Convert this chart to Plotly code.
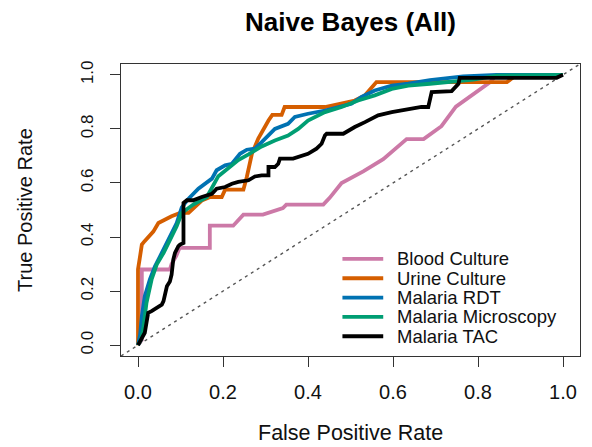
import plotly.graph_objects as go

# ROC curves for the Naive Bayes classifier, one per diagnostic target
blood_fpr = [0, .009, .009, .075, .079, .09, .098, .169, .169, .224, .248, .294, .341, .349,
             .436, .451, .479, .53, .577, .632, .672, .714, .748, .785, .828, .844, 1.0]
blood_tpr = [0, .02, .28, .28, .30, .33, .36, .36, .442, .442, .483, .483, .507, .52,
             .52, .545, .60, .643, .688, .762, .762, .81, .882, .922, .972, 1.0, 1.0]

urine_fpr = [0, 0, .004, .009, .015, .036, .048, .079, .099, .119, .15, .17, .197, .205, .248,
             .256, .268, .283, .307, .316, .338, .345, .44, .51, .534, .561, .868, .891, 1.0]
urine_tpr = [0, .28, .32, .372, .384, .42, .452, .477, .489, .489, .535, .548, .548, .575, .575,
             .622, .708, .764, .831, .852, .852, .881, .881, .905, .924, .973, .973, 1.0, 1.0]

rdt_fpr = [0, .005, .009, .016, .028, .04, .056, .068, .079, .091, .103, .119, .142, .158, .174,
           .185, .205, .221, .24, .256, .275, .291, .307, .322, .353, .369, .40, .44, .502, .526,
           .557, .597, .636, .687, .765, .844, 1.0]
rdt_tpr = [0, .04, .107, .181, .243, .292, .341, .378, .415, .452, .51, .542, .579, .597, .616,
           .647, .665, .671, .708, .723, .727, .751, .776, .80, .819, .844, .856, .868, .893, .918,
           .942, .96, .967, .98, .994, 1.0, 1.0]

micro_fpr = [0, .007, .013, .02, .032, .044, .06, .075, .091, .103, .13, .162, .174, .189, .213,
             .236, .26, .291, .322, .353, .377, .40, .44, .479, .518, .557, .597, .636, .687,
             .789, .844, 1.0]
micro_tpr = [0, .02, .07, .157, .243, .298, .341, .39, .44, .489, .52, .548, .585, .625, .655,
             .685, .706, .735, .757, .775, .80, .831, .862, .881, .905, .924, .948, .96, .967,
             .982, .997, 1.0]

tac_fpr = [0, .008, .016, .02, .024, .032, .056, .06, .064, .068, .075, .079, .083, .087, .095,
           .099, .107, .107, .115, .13, .15, .174, .185, .205, .221, .236, .26, .275, .291, .307,
           .307, .322, .33, .334, .365, .40, .42, .432, .44, .444, .483, .51, .534, .565, .597,
           .62, .667, .683, .691, .738, .754, .757, .985, 1.0]
tac_tpr = [0, .02, .046, .083, .12, .126, .15, .163, .187, .218, .236, .261, .317, .341, .366,
           .372, .378, .526, .536, .536, .548, .56, .579, .585, .597, .604, .61, .624, .628, .628,
           .659, .659, .671, .69, .69, .708, .727, .745, .776, .782, .782, .807, .825, .85, .862,
           .868, .881, .881, .936, .94, .967, .989, .989, 1.0]

series_names = ["Blood Culture", "Urine Culture", "Malaria RDT", "Malaria Microscopy", "Malaria TAC"]
series_colors = ["#CC79A7", "#D55E00", "#0072B2", "#009E73", "#000000"]
series_x = [blood_fpr, urine_fpr, rdt_fpr, micro_fpr, tac_fpr]
series_y = [blood_tpr, urine_tpr, rdt_tpr, micro_tpr, tac_tpr]

tick_vals = [0, 0.2, 0.4, 0.6, 0.8, 1.0]
tick_text = ["0.0", "0.2", "0.4", "0.6", "0.8", "1.0"]

FONT = "Liberation Sans, Arial, sans-serif"
LO, HI = -0.04, 1.04          # R-style 4% padding around [0, 1]
LW = 3.8

fig = go.Figure()
for xs, ys, name, col in zip(series_x, series_y, series_names, series_colors):
    fig.add_trace(go.Scatter(x=xs, y=ys, mode="lines", name=name,
                             line=dict(color=col, width=LW), showlegend=False))

# chance diagonal across the whole plotting region
fig.add_shape(type="line", xref="x", yref="y", x0=LO, y0=LO, x1=HI, y1=HI,
              line=dict(color="#555555", width=1.4, dash="3px,4px"), layer="below")

# legend without a box (bottom right)
leg_x0, leg_x1, leg_tx = 0.481, 0.577, 0.606
leg_top, leg_step = 0.319, 0.0715
for i, (name, col) in enumerate(zip(series_names, series_colors)):
    yy = leg_top - i * leg_step
    fig.add_shape(type="line", xref="x", yref="y", x0=leg_x0, x1=leg_x1, y0=yy, y1=yy,
                  line=dict(color=col, width=LW))
    fig.add_annotation(x=leg_tx, y=yy, xref="x", yref="y", text=name, showarrow=False,
                       xanchor="left", yanchor="middle", borderpad=0,
                       font=dict(family=FONT, size=18.5, color="#111111"))

W, H = 592, 447
ML, MR, MT, MB = 121, 12, 64, 91
ph = H - MT - MB

fig.update_layout(
    width=W, height=H,
    margin=dict(l=ML, r=MR, t=MT, b=MB, pad=0),
    paper_bgcolor="white", plot_bgcolor="white",
    title=dict(text="<b>Naive Bayes (All)</b>", x=0.5, xref="paper",
               y=1 - 22 / H, yref="container", xanchor="center", yanchor="middle",
               font=dict(family=FONT, size=26, color="#000000")),
    font=dict(family=FONT, color="#111111"),
    showlegend=False,
)

axis_common = dict(range=[LO, HI], tickmode="array", tickvals=tick_vals, ticktext=tick_text,
                   showgrid=False, zeroline=False, showline=True, mirror=True,
                   linecolor="#333333", linewidth=1.3, ticks="outside", ticklen=10,
                   tickwidth=1.3, tickcolor="#333333")
fig.update_xaxes(**axis_common, tickfont=dict(family=FONT, size=20, color="#111111"),
                 ticklabelstandoff=8)
fig.update_yaxes(**axis_common, tickangle=-90,
                 tickfont=dict(family=FONT, size=17, color="#111111"),
                 ticklabelstandoff=10)

# axis titles
fig.add_annotation(text="False Positive Rate", xref="paper", yref="paper",
                   x=0.5, y=-(433 - (MT + ph)) / ph, xanchor="center", yanchor="middle",
                   showarrow=False, font=dict(family=FONT, size=21.5, color="#111111"))
fig.add_annotation(text="True Positive Rate", xref="paper", yref="paper",
                   x=-(ML - 25) / (W - ML - MR), y=0.5, xanchor="center", yanchor="middle",
                   textangle=-90, showarrow=False,
                   font=dict(family=FONT, size=20, color="#111111"))

fig.write_html("out.html")
